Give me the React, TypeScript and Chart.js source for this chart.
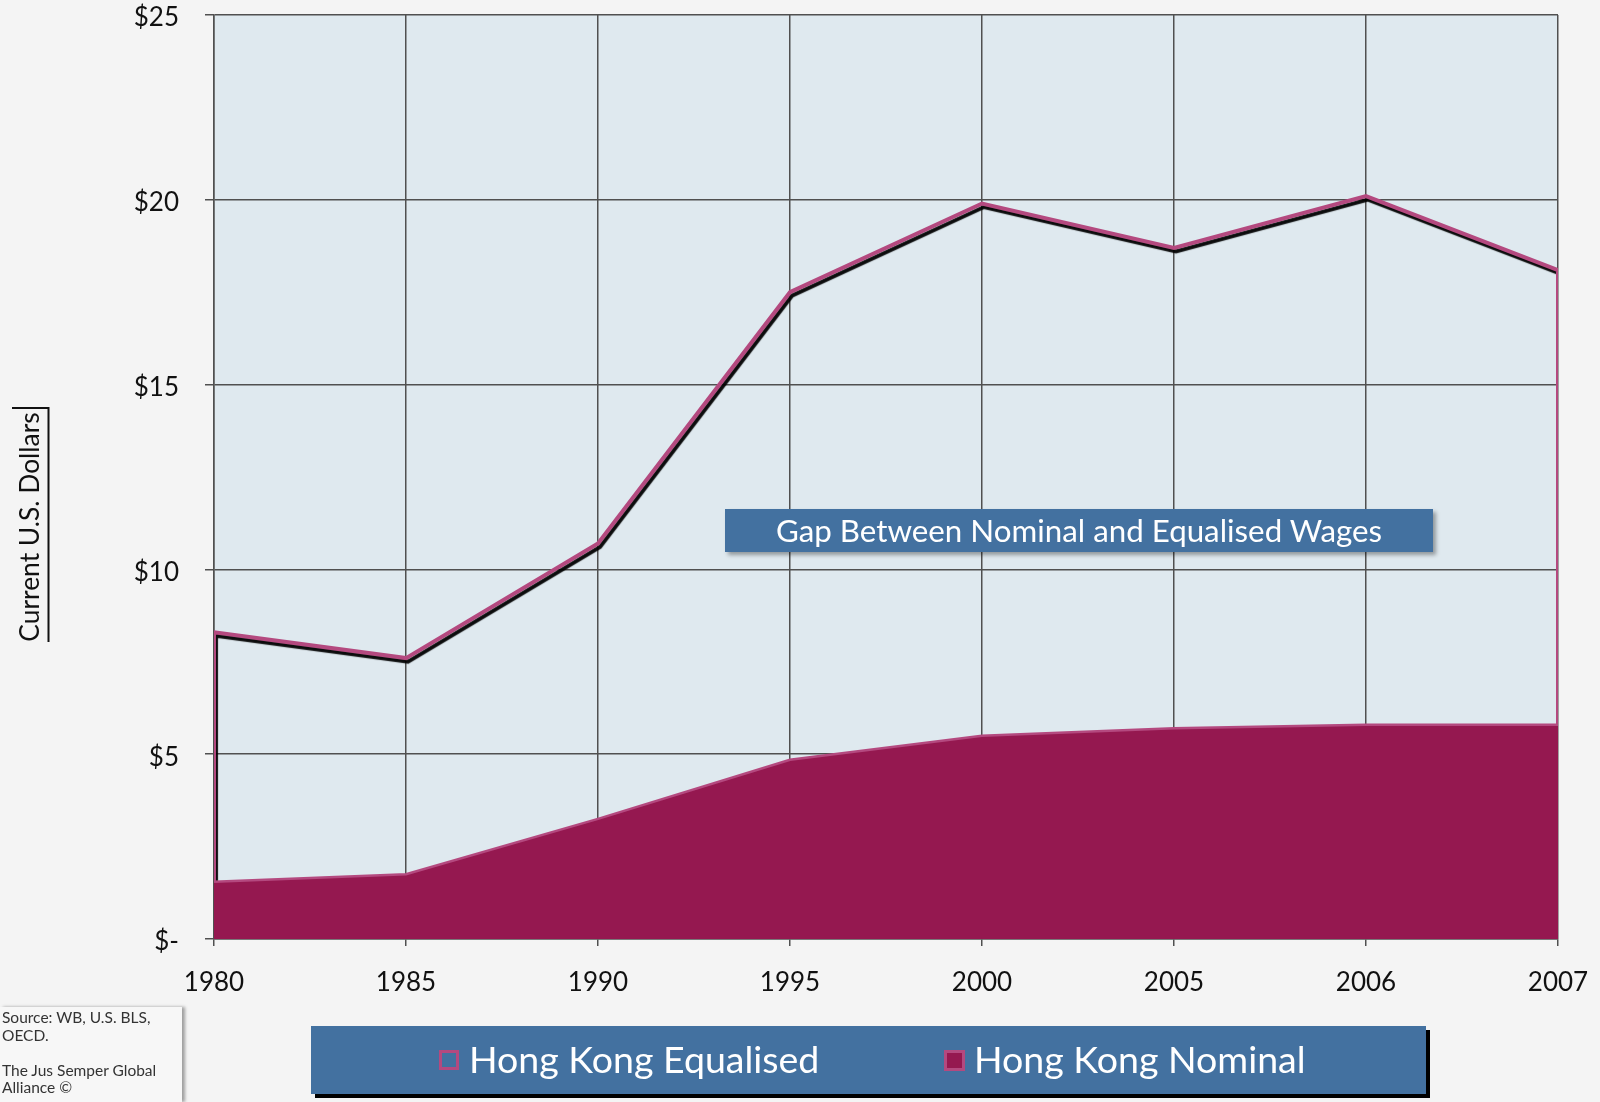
import React, { useEffect, useRef } from 'react';
import { Chart, registerables } from 'chart.js';

Chart.register(...registerables);

// ---- data ----
const years = ['1980', '1985', '1990', '1995', '2000', '2005', '2006', '2007'];
const equalised = [8.3, 7.6, 10.7, 17.5, 19.9, 18.7, 20.1, 18.1];
const nominal = [1.55, 1.75, 3.25, 4.85, 5.5, 5.7, 5.8, 5.8];
const yMax = 25;
const yStep = 5;
const yTitle = 'Current U.S. Dollars';
const gapLabel = 'Gap Between Nominal and Equalised Wages';
const legendLabels = ['Hong Kong Equalised', 'Hong Kong Nominal'];
const sourceLines = ['Source: WB, U.S. BLS,', 'OECD.', '', 'The Jus Semper Global', 'Alliance ©'];

const FONT = 'Lato, "Open Sans", sans-serif';
const PAGE_BG = '#f4f4f4';
const PLOT_BG = '#dfe9ef';
const NOMINAL_FILL = '#951850';
const PINK = '#b4497f';
const BLUE = '#4371a0';
const GRID = '#505050';

const bgPlugin = {
  id: 'bgPlugin',
  beforeDraw(chart: any) {
    const { ctx, chartArea } = chart;
    ctx.save();
    ctx.fillStyle = PAGE_BG;
    ctx.fillRect(0, 0, chart.width, chart.height);
    ctx.fillStyle = PLOT_BG;
    ctx.fillRect(chartArea.left, chartArea.top, chartArea.right - chartArea.left, chartArea.bottom - chartArea.top);
    ctx.restore();
  },
};

const shadowPlugin = {
  id: 'shadowPlugin',
  beforeDatasetDraw(chart: any, args: any) {
    if (args.index === 0) {
      const ctx = chart.ctx;
      ctx.save();
      ctx.shadowColor = 'rgba(0,0,0,0.95)';
      ctx.shadowOffsetX = 2;
      ctx.shadowOffsetY = 3.5;
      ctx.shadowBlur = 1;
    }
  },
  afterDatasetDraw(chart: any, args: any) {
    if (args.index === 0) chart.ctx.restore();
  },
};

const titlePlugin = {
  id: 'titlePlugin',
  afterDraw(chart: any) {
    const ctx = chart.ctx;
    ctx.save();
    ctx.fillStyle = '#111';
    ctx.font = `26.4px ${FONT}`;
    ctx.translate(30, 527);
    ctx.rotate(-Math.PI / 2);
    ctx.textAlign = 'center';
    ctx.textBaseline = 'middle';
    ctx.fillText(yTitle, 0, 0);
    ctx.restore();
    ctx.save();
    ctx.strokeStyle = '#111';
    ctx.lineWidth = 2;
    ctx.beginPath();
    ctx.moveTo(12, 408);
    ctx.lineTo(48.5, 408);
    ctx.lineTo(48.5, 642);
    ctx.stroke();
    ctx.restore();
  },
};

export default function App() {
  const ref = useRef<HTMLCanvasElement | null>(null);

  useEffect(() => {
    if (!ref.current) return;
    const last = years.length - 1;
    const outline = [
      { x: 0, y: nominal[0] },
      ...equalised.map((v, i) => ({ x: i, y: v })),
      { x: last, y: nominal[last] },
    ];
    const chart = new Chart(ref.current, {
      type: 'line',
      data: {
        datasets: [
          {
            label: legendLabels[0],
            data: outline,
            borderColor: PINK,
            borderWidth: 4,
            backgroundColor: 'transparent',
            fill: false,
            pointRadius: 0,
            order: 1,
          },
          {
            label: legendLabels[1],
            data: nominal.map((v, i) => ({ x: i, y: v })),
            borderColor: PINK,
            borderWidth: 2.5,
            backgroundColor: NOMINAL_FILL,
            fill: 'origin',
            pointRadius: 0,
            order: 0,
          },
        ],
      },
      options: {
        responsive: false,
        maintainAspectRatio: false,
        devicePixelRatio: 1,
        animation: false,
        layout: { padding: { top: 15, right: 42, bottom: 0, left: 0 } },
        plugins: { legend: { display: false }, tooltip: { enabled: false } },
        scales: {
          x: {
            type: 'linear',
            min: 0,
            max: last,
            afterFit: (s: any) => {
              s.height = 163;
              s.paddingLeft = 0;
              s.paddingRight = 0;
            },
            grid: { color: GRID, lineWidth: 1.5, tickLength: 7, drawTicks: true },
            border: { color: GRID, width: 1.5 },
            ticks: {
              stepSize: 1,
              autoSkip: false,
              maxRotation: 0,
              padding: 21,
              color: '#111',
              font: { family: FONT, size: 26 },
              callback: (v: any) => years[v as number] ?? '',
            },
          },
          y: {
            min: 0,
            max: yMax,
            afterFit: (s: any) => {
              s.width = 214;
              s.paddingTop = 0;
              s.paddingBottom = 0;
            },
            grid: { color: GRID, lineWidth: 1.5, tickLength: 9 },
            border: { color: GRID, width: 1.5 },
            ticks: {
              stepSize: yStep,
              padding: 26,
              labelOffset: 3,
              color: '#111',
              font: { family: FONT, size: 26 },
              callback: (v: any) => (v === 0 ? '$-' : '$' + v),
            },
          },
        },
      },
      plugins: [bgPlugin, shadowPlugin, titlePlugin],
    });
    return () => chart.destroy();
  }, []);

  return (
    <div style={{ position: 'absolute', left: 0, top: 0, width: 1600, height: 1102, fontFamily: FONT, background: PAGE_BG }}>
      <canvas ref={ref} width={1600} height={1102} style={{ display: 'block', width: 1600, height: 1102 }} />
      <div
        style={{
          position: 'absolute', left: 725, top: 509, width: 708, height: 43, background: BLUE,
          boxShadow: '3px 3px 4px rgba(0,0,0,0.35)', color: '#fff', fontSize: 31.3,
          display: 'flex', alignItems: 'center', justifyContent: 'center', lineHeight: 1,
        }}
      >
        {gapLabel}
      </div>
      <div
        style={{
          position: 'absolute', left: 311, top: 1026, width: 1115, height: 68, background: BLUE,
          boxShadow: '4px 4px 0 #000', color: '#fff', fontSize: 37.5, lineHeight: 1,
        }}
      >
        <div style={{ position: 'absolute', left: 128, top: 24, width: 20, height: 20, border: `3px solid ${PINK}`, boxSizing: 'border-box' }} />
        <div style={{ position: 'absolute', left: 158, top: 14, whiteSpace: 'nowrap' }}>{legendLabels[0]}</div>
        <div style={{ position: 'absolute', left: 633, top: 24, width: 21, height: 21, border: `3px solid ${PINK}`, background: NOMINAL_FILL, boxSizing: 'border-box' }} />
        <div style={{ position: 'absolute', left: 663, top: 14, whiteSpace: 'nowrap' }}>{legendLabels[1]}</div>
      </div>
      <div
        style={{
          position: 'absolute', left: 0, top: 1007, width: 182, height: 95, background: '#f7f7f7',
          boxShadow: '3px 0 3px rgba(0,0,0,0.35)', color: '#333', fontSize: 15.5, lineHeight: '17.5px',
          paddingLeft: 2, paddingTop: 2, boxSizing: 'border-box',
        }}
      >
        {sourceLines.map((l, i) => (
          <div key={i} style={{ height: 17.5, whiteSpace: 'nowrap' }}>{l}</div>
        ))}
      </div>
    </div>
  );
}
